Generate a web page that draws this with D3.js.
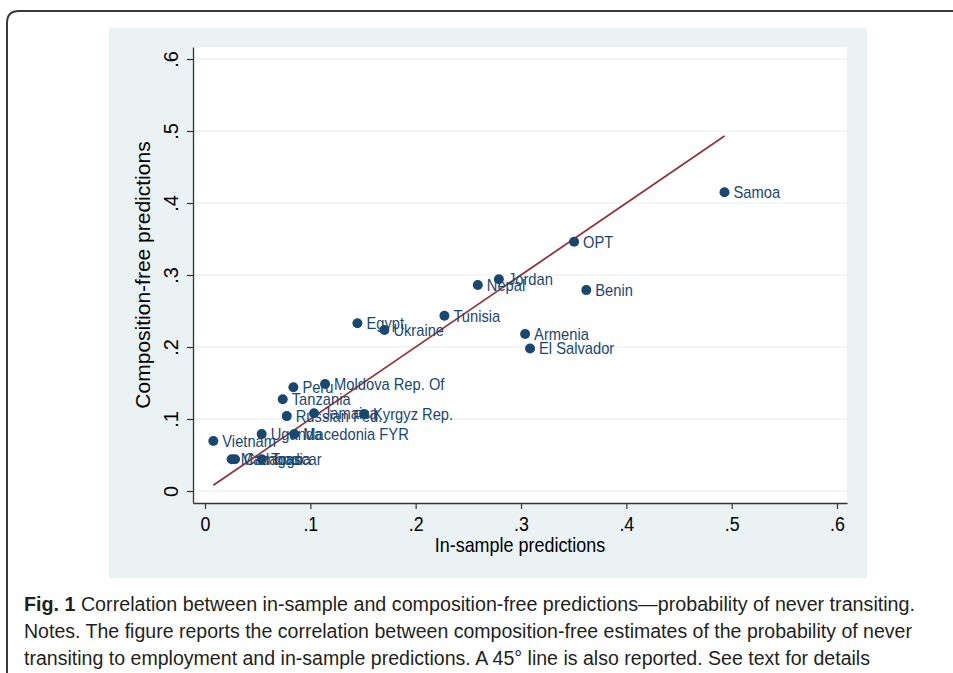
<!DOCTYPE html>
<html><head><meta charset="utf-8">
<script src="https://cdn.jsdelivr.net/npm/d3@7"></script>
<style>
html,body{margin:0;padding:0;background:#fff;}
svg{display:block;font-family:"Liberation Sans",Arial,sans-serif;}
</style></head>
<body>
<svg id="chart" width="953" height="673"></svg>
<script>
// ---- data ----
const countries = ["Samoa","OPT","Benin","Jordan","Nepal","Tunisia","Egypt","Ukraine","Armenia","El Salvador",
  "Moldova Rep. Of","Peru","Tanzania","Russian Fed.","Jamaica","Kyrgyz Rep.","Uganda","Macedonia FYR","Vietnam",
  "Madagascar","Cambodia","Togo"];
const inSample = [0.4932,0.3504,0.3620,0.2790,0.2590,0.2273,0.1447,0.1703,0.3039,0.3086,
  0.1140,0.0839,0.0738,0.0776,0.1035,0.1510,0.0538,0.0848,0.0079,
  0.0253,0.0285,0.0540];
const compFree = [0.4149,0.3463,0.2790,0.2940,0.2860,0.2435,0.2329,0.2236,0.2180,0.1980,
  0.1486,0.1440,0.1274,0.1040,0.1080,0.1070,0.0790,0.0790,0.0694,
  0.0440,0.0440,0.0440];
const tickValues = [0,0.1,0.2,0.3,0.4,0.5,0.6];
const tickLabels = ["0",".1",".2",".3",".4",".5",".6"];
const xTitle = "In-sample predictions";
const yTitle = "Composition-free predictions";
const captionBold = "Fig. 1";
const captionLines = [
  " Correlation between in-sample and composition-free predictions\u2014probability of never transiting.",
  "Notes. The figure reports the correlation between composition-free estimates of the probability of never",
  "transiting to employment and in-sample predictions. A 45\u00b0 line is also reported. See text for details"
];

// ---- styles ----
const NAVY = "#1a476f", MAROON = "#90353b", BG = "#eaf2f3", GRID = "#e6eef0";
const SQ = 0.89;
function squeeze(sel, k){
  sel.each(function(){
    const w = this.getComputedTextLength();
    d3.select(this).attr("textLength", w*k).attr("lengthAdjust","spacingAndGlyphs");
  });
}

const svg = d3.select("#chart");

// outer frame
svg.append("path")
  .attr("d","M7,673 L7,23 Q7,11 19,11 L953,11")
  .attr("fill","none").attr("stroke","#3a3a3a").attr("stroke-width",2);

// gray panel
svg.append("rect").attr("x",109).attr("y",28).attr("width",758).attr("height",550).attr("fill",BG);

const L=193, R=847, T=47, B=503;
svg.append("rect").attr("x",L).attr("y",T).attr("width",R-L).attr("height",B-T).attr("fill","#fff");

const x = d3.scaleLinear().domain([-0.0114,0.6095]).range([L,R]);
const y = d3.scaleLinear().domain([-0.01667,0.61667]).range([B,T]);

// gridlines
svg.append("g").selectAll("line").data(tickValues).join("line")
  .attr("x1",L).attr("x2",R).attr("y1",d=>y(d)).attr("y2",d=>y(d))
  .attr("stroke",GRID).attr("stroke-width",1.2);

// axes
const fmt = d => tickLabels[tickValues.indexOf(d)];
const yAxis = svg.append("g").attr("transform",`translate(${L},0)`)
  .call(d3.axisLeft(y).tickValues(tickValues).tickFormat(fmt).tickSize(6).tickSizeOuter(0));
const xAxis = svg.append("g").attr("transform",`translate(0,${B})`)
  .call(d3.axisBottom(x).tickValues(tickValues).tickFormat(fmt).tickSize(6).tickSizeOuter(0));
[yAxis,xAxis].forEach(a=>{
  a.select(".domain").attr("stroke","#333").attr("stroke-width",1.3);
  a.selectAll(".tick line").attr("stroke","#333").attr("stroke-width",1.2);
  a.selectAll("text").attr("fill","#000").attr("font-size",20).attr("font-family","Liberation Sans, Arial, sans-serif");
});
xAxis.selectAll("text").attr("dy",null).attr("y",28);
squeeze(xAxis.selectAll("text"), SQ);
yAxis.selectAll(".tick text")
  .attr("x",null).attr("dy",null)
  .attr("text-anchor","middle")
  .attr("transform","translate(-15,0) rotate(-90)")
  .attr("y",0);

// titles
svg.append("text").attr("x",(L+R)/2).attr("y",552).attr("text-anchor","middle")
  .attr("font-size",21).attr("fill","#000").text(xTitle).call(squeeze,SQ*0.96);
svg.append("text").attr("transform",`translate(150,${y(0.3)}) rotate(-90)`).attr("text-anchor","middle")
  .attr("font-size",21).attr("fill","#000").text(yTitle);

// 45 degree line from data extent
const ext = d3.extent(inSample);
svg.append("line").attr("x1",x(ext[0])).attr("y1",y(ext[0])).attr("x2",x(ext[1])).attr("y2",y(ext[1]))
  .attr("stroke",MAROON).attr("stroke-width",1.8);

// points
const pts = countries.map((c,i)=>({c, xv:inSample[i], yv:compFree[i]}));
svg.append("g").selectAll("circle").data(pts).join("circle")
  .attr("cx",d=>x(d.xv)).attr("cy",d=>y(d.yv)).attr("r",5).attr("fill",NAVY);
svg.append("g").selectAll("text").data(pts).join("text")
  .attr("x",d=>x(d.xv)+9).attr("y",d=>y(d.yv)+6)
  .attr("font-size",17).attr("fill",NAVY).text(d=>d.c)
  .call(squeeze,0.865);

// caption
const capFont = "Liberation Sans, Arial, sans-serif";
const capWidths = [891, 888, 846];
const capY = [611, 638, 665];
captionLines.forEach((t,i)=>{
  const tx = svg.append("text").attr("x",24).attr("y",capY[i]).attr("font-size",20)
    .attr("fill","#231f20").attr("font-family",capFont);
  if(i===0){ tx.append("tspan").attr("font-weight","bold").text(captionBold); }
  tx.append("tspan").text(t);
  tx.attr("textLength",capWidths[i]).attr("lengthAdjust","spacingAndGlyphs");
});
</script>
</body></html>
